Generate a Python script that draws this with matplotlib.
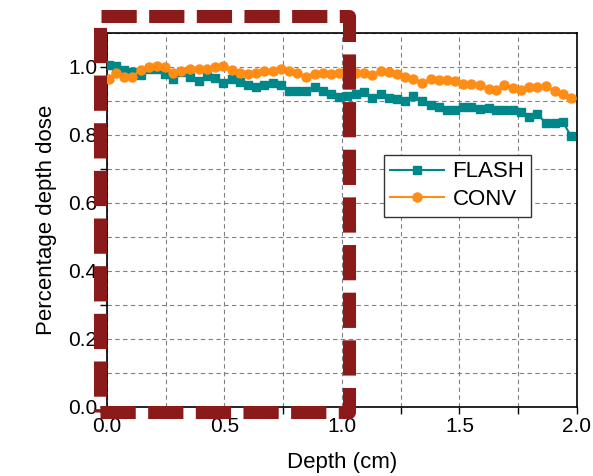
import numpy as np
import matplotlib
matplotlib.use("Agg")
import matplotlib.pyplot as plt
from matplotlib.patches import Rectangle
from matplotlib.ticker import MultipleLocator

plt.rcParams['font.family'] = ['Liberation Sans', 'DejaVu Sans']

# --- data ---
depth = [0.009, 0.038, 0.072, 0.106, 0.145, 0.179, 0.213, 0.247, 0.281, 0.315,
         0.353, 0.391, 0.426, 0.460, 0.494, 0.532, 0.566, 0.600, 0.634, 0.668,
         0.706, 0.740, 0.774, 0.809, 0.847, 0.885, 0.919, 0.953, 0.987, 1.021,
         1.060, 1.094, 1.128, 1.166, 1.200, 1.234, 1.268, 1.302, 1.340, 1.379,
         1.413, 1.447, 1.481, 1.515, 1.549, 1.587, 1.626, 1.655, 1.689, 1.728,
         1.762, 1.796, 1.830, 1.868, 1.906, 1.940, 1.974]

flash = [1.005, 1.003, 0.991, 0.985, 0.975, 0.993, 0.995, 0.979, 0.964, 0.985,
         0.970, 0.958, 0.974, 0.966, 0.954, 0.964, 0.956, 0.948, 0.940, 0.948,
         0.954, 0.946, 0.930, 0.929, 0.929, 0.940, 0.930, 0.919, 0.911, 0.915,
         0.919, 0.925, 0.907, 0.919, 0.907, 0.905, 0.901, 0.913, 0.901, 0.887,
         0.883, 0.874, 0.872, 0.883, 0.883, 0.876, 0.879, 0.874, 0.874, 0.874,
         0.866, 0.854, 0.862, 0.834, 0.836, 0.838, 0.797]

conv = [0.964, 0.983, 0.971, 0.971, 0.991, 1.001, 1.003, 0.999, 0.981, 0.989,
        0.995, 0.993, 0.995, 0.999, 1.003, 0.991, 0.983, 0.978, 0.983, 0.987,
        0.989, 0.993, 0.989, 0.983, 0.970, 0.980, 0.981, 0.978, 0.981, 0.979,
        0.983, 0.981, 0.975, 0.989, 0.985, 0.979, 0.971, 0.964, 0.954, 0.964,
        0.962, 0.960, 0.958, 0.950, 0.950, 0.948, 0.934, 0.932, 0.948, 0.938,
        0.932, 0.940, 0.942, 0.944, 0.929, 0.921, 0.907]

teal = '#00878A'
orange = '#FF8C14'
dark_red = '#8B1A1A'

fig = plt.figure(figsize=(5.93, 4.76), dpi=100)
ax = fig.add_axes([0.180, 0.145, 0.793, 0.786])

ax.plot(depth, flash, '-s', color=teal, lw=1.5, ms=6, label='FLASH', zorder=3)
ax.plot(depth, conv, '-o', color=orange, lw=1.5, ms=6.5, label='CONV', zorder=3)

ax.set_xlim(0, 2.0)
ax.set_ylim(0, 1.1)
ax.xaxis.set_major_locator(MultipleLocator(0.5))
ax.xaxis.set_minor_locator(MultipleLocator(0.25))
ax.yaxis.set_major_locator(MultipleLocator(0.2))
ax.yaxis.set_minor_locator(MultipleLocator(0.1))
ax.xaxis.set_major_formatter(plt.FormatStrFormatter('%.1f'))
ax.yaxis.set_major_formatter(plt.FormatStrFormatter('%.1f'))

ax.grid(True, which='both', linestyle=(0, (4, 3)), color='#808080', lw=0.8)
ax.tick_params(which='both', direction='out', length=5, width=1, labelsize=15, pad=2)
for s in ax.spines.values():
    s.set_linewidth(1.2)

ax.set_xlabel('Depth (cm)', fontsize=16, labelpad=12)
ax.set_ylabel('Percentage depth dose', fontsize=16, labelpad=8)

leg = ax.legend(loc='upper left', bbox_to_anchor=(0.589, 0.674), fontsize=16,
                fancybox=False, framealpha=1, edgecolor='#333333', borderaxespad=0,
                handlelength=2.4, borderpad=0.3, labelspacing=0.3, handletextpad=0.4)
leg.get_frame().set_linewidth(1.0)

# dashed highlight box around 0-1 cm
box = Rectangle((-0.030, -0.015), 1.060, 1.165, fill=False, edgecolor=dark_red,
                lw=9.4, linestyle=(0, (2.7, 0.95)), clip_on=False, zorder=10,
                joinstyle='round')
ax.add_patch(box)

fig.savefig('out.png', dpi=100)
